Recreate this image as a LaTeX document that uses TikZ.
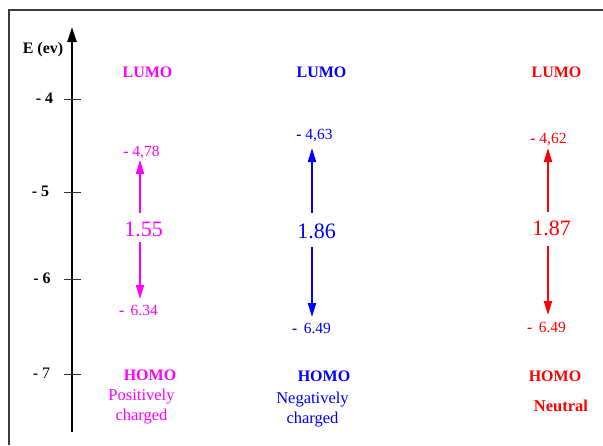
\documentclass[tikz,border=0pt]{standalone}
\usepackage{fontspec}
\setmainfont{Liberation Serif}
\newfontfamily\tnr{Liberation Serif}
\usetikzlibrary{arrows.meta}
\definecolor{cmag}{RGB}{255,0,255}
\definecolor{cblue}{RGB}{0,0,255}
\definecolor{cred}{RGB}{255,0,0}
\definecolor{frame}{RGB}{60,60,60}
\begin{document}
\begin{tikzpicture}[x=1pt,y=-1pt,
  lvl/.style={font=\tnr\fontsize{16}{18}\selectfont\bfseries, inner sep=0},
  num/.style={font=\tnr\fontsize{15.5}{17}\selectfont, inner sep=0},
  gapval/.style={font=\tnr\fontsize{22}{24}\selectfont, inner sep=0},
  desc/.style={font=\tnr\fontsize{16.5}{20}\selectfont, inner sep=0, align=center},
  ticklab/.style={font=\tnr\fontsize{16}{18}\selectfont\bfseries, inner sep=0},
  gaparrow/.style={line width=2pt, -{Triangle[length=14pt,width=8pt]}},
  tickline/.style={line width=1pt, draw=black!80}]
\useasboundingbox (0,0) rectangle (603,445);
% frame
\coordinate (fbl) at (9,445);
\coordinate (ftl) at (9,10);
\coordinate (ftr) at (603,10);
\draw[frame, line width=1.4pt] (fbl) -- (ftl) -- (ftr);
% axis
\coordinate (axbot) at (72,432);
\coordinate (axtop) at (72,27);
\draw[line width=2.6pt, -{Triangle[length=15pt,width=9pt]}] (axbot) -- (axtop);
\node[ticklab] (ylab) at (43,50) {E (ev)};
\foreach \v/\y/\lx in {4/99/44.5,5/192/40.5,6/279/42}{
  \draw[tickline] (64,\y) -- (81,\y);
  \node[ticklab] (t\v) at (\lx,\y-1) {- \v};
}
\draw[tickline] (64,374) -- (81,374);
\node[font=\tnr\fontsize{16}{18}\selectfont, inner sep=0] (t7) at (41.5,373) {- 7};

% magenta column
\begin{scope}[cmag]
\node[lvl] (mL) at (147.5,72) {LUMO};
\node[num] (mT) at (141.5,153) {\textbf{-} 4,78};
\node[gapval] (mG) at (143.5,229) {1.55};
\node[num] (mB) at (138.5,310) {\textbf{-}\, 6.34};
\node[lvl] (mH) at (150,375) {HOMO};
\node[desc] (mD) at (141.5,407) {Positively\\charged};
\coordinate (mu1) at (140,213); \coordinate (mu2) at (140,160);
\coordinate (md1) at (140,242); \coordinate (md2) at (140,299);
\draw[gaparrow] (mu1) -- (mu2);
\draw[gaparrow] (md1) -- (md2);
\end{scope}

% blue column
\begin{scope}[cblue]
\node[lvl] (bL) at (321.5,72) {LUMO};
\node[num] (bT) at (314.5,136) {\textbf{-} 4,63};
\node[gapval] (bG) at (316.5,231) {1.86};
\node[num] (bB) at (311.5,328) {\textbf{-}\, 6.49};
\node[lvl] (bH) at (324,376) {HOMO};
\node[desc] (bD) at (312.5,409.5) {Negatively\\charged};
\coordinate (bu1) at (312,213); \coordinate (bu2) at (312,148);
\coordinate (bd1) at (312,247); \coordinate (bd2) at (312,317);
\draw[gaparrow] (bu1) -- (bu2);
\draw[gaparrow] (bd1) -- (bd2);
\end{scope}

% red column
\begin{scope}[cred]
\node[lvl] (rL) at (556.5,72) {LUMO};
\node[num] (rT) at (548.5,140) {\textbf{-} 4,62};
\node[gapval] (rG) at (551.5,228) {1.87};
\node[num] (rB) at (546.5,327) {\textbf{-}\, 6.49};
\node[lvl] (rH) at (555,376) {HOMO};
\node[desc, font=\tnr\fontsize{16.5}{20}\selectfont\bfseries] (rD) at (561,406) {Neutral};
\coordinate (ru1) at (548,212); \coordinate (ru2) at (548,148);
\coordinate (rd1) at (548,246); \coordinate (rd2) at (548,315);
\draw[gaparrow] (ru1) -- (ru2);
\draw[gaparrow] (rd1) -- (rd2);
\end{scope}
\end{tikzpicture}
\end{document}
